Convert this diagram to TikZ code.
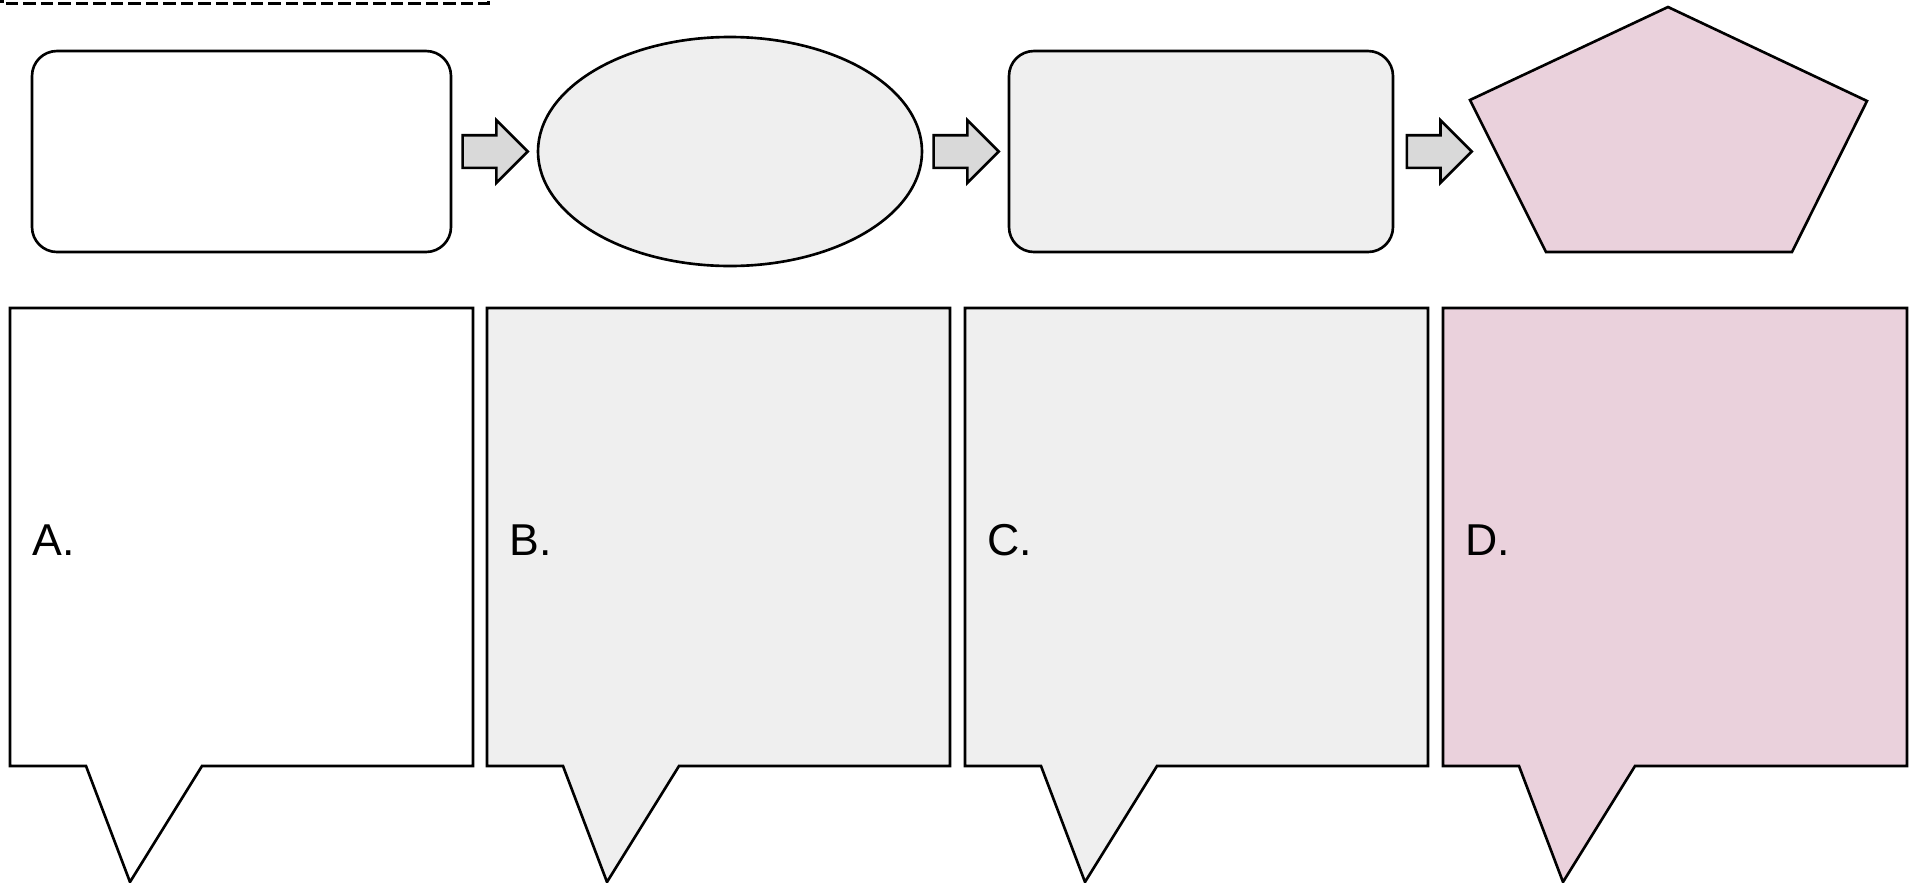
\documentclass[tikz,border=0pt]{standalone}
\usepackage{fontspec}
\setmainfont{Liberation Sans}
\usetikzlibrary{shapes.geometric,shapes.arrows,calc}
\definecolor{panelgrey}{HTML}{EFEFEF}
\definecolor{panelpink}{HTML}{EAD1DC}
\definecolor{arrowgrey}{HTML}{D9D9D9}
\begin{document}
\begin{tikzpicture}[
    outline/.style={draw=black,line width=0.75pt},
    stepcard/.style={outline,rectangle,rounded corners=0.25cm,minimum width=4.19cm,minimum height=2.01cm},
    blockarrow/.style={single arrow,outline,fill=arrowgrey,inner xsep=0pt,inner ysep=0.15cm,
        single arrow head extend=0.15cm,single arrow tip angle=90,minimum height=0.65cm},
    tagtext/.style={anchor=base west,inner sep=0pt,font=\fontsize{12.7}{15}\selectfont}]
    \useasboundingbox (0,0) rectangle (19.10,-8.83);
    % dashed frame cut off at the top
    \draw[line width=0.33mm,dash pattern=on 1.25mm off 0.5mm] (0.02,0.1) -- (0.02,-0.035) -- (4.885,-0.035) -- (4.885,0.1);
    % top row
    \draw node (cardA) at(2.415cm,-1.515cm) [stepcard,fill=white] {}
          node (ovalB) at(7.30cm,-1.515cm) [outline,ellipse,fill=panelgrey,minimum width=3.84cm,minimum height=2.29cm] {}
          node (cardC) at(12.01cm,-1.515cm) [stepcard,fill=panelgrey,minimum width=3.84cm] {};
    \draw[outline,fill=panelpink] (16.68,-0.07) -- (18.67,-1.01) -- (17.92,-2.52) -- (15.46,-2.52) -- (14.70,-1.00) coordinate (pentD) -- cycle;
    \node (arrAB) at ($(cardA.east)!0.5!(ovalB.west)+(-0.075,0)$) [blockarrow] {};
    \node (arrBC) at ($(ovalB.east)!0.5!(cardC.west)+(-0.075,0)$) [blockarrow] {};
    \node (arrCD) at ($(cardC.east)!0.5!(pentD |- cardC.east)+(-0.01,0)$) [blockarrow] {};
    % bottom row
    \draw[outline,fill=white] (0.10,-3.08) -- (4.73,-3.08) -- (4.73,-7.66) -- (2.02,-7.66) -- (1.30,-8.82) -- (0.86,-7.66) -- (0.10,-7.66) -- cycle;
    \draw[outline,fill=panelgrey] (4.87,-3.08) -- (9.50,-3.08) -- (9.50,-7.66) -- (6.79,-7.66) -- (6.07,-8.82) -- (5.63,-7.66) -- (4.87,-7.66) -- cycle;
    \draw[outline,fill=panelgrey] (9.65,-3.08) -- (14.28,-3.08) -- (14.28,-7.66) -- (11.57,-7.66) -- (10.85,-8.82) -- (10.41,-7.66) -- (9.65,-7.66) -- cycle;
    \draw[outline,fill=panelpink] (14.43,-3.08) -- (19.07,-3.08) -- (19.07,-7.66) -- (16.35,-7.66) -- (15.63,-8.82) -- (15.19,-7.66) -- (14.43,-7.66) -- cycle;
    \node (tagA) at (0.32,-5.55) [tagtext] {A.};
    \node (tagB) at (5.09,-5.55) [tagtext] {B.};
    \node (tagC) at (9.87,-5.55) [tagtext] {C.};
    \node (tagD) at (14.65,-5.55) [tagtext] {D.};
\end{tikzpicture}
\end{document}
